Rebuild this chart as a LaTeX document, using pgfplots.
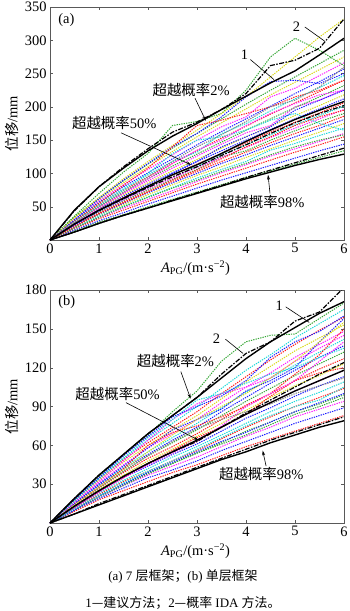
\documentclass[border=0pt]{standalone}
\usepackage{fontspec}
\setmainfont{Liberation Serif}
\newfontfamily\cjk{Noto Sans CJK SC}
\usepackage{pgfplots}
\usepackage{pgfplotstable}
\pgfplotsset{compat=1.18}
\usetikzlibrary{arrows.meta}

\definecolor{qg}{rgb}{0.2,0.65,0.2}
\definecolor{qr}{rgb}{1,0.1,0.1}
\definecolor{qb}{rgb}{0.1,0.1,1}
\definecolor{qm}{rgb}{1,0.1,1}
\definecolor{qc}{rgb}{0.1,0.85,0.85}
\definecolor{qy}{rgb}{0.85,0.85,0.1}
\definecolor{qo}{rgb}{0.5,0.5,0.5}

% panel (a): one row per record, columns = A_PG values
\pgfplotstableread{
name 0 0.5 1 1.5 2 2.5 3 3.5 4 4.5 5 5.5 6
c1 0 14 27 38 50 61 72 83 94 104 114 124 134
c2 0 15 29 41 54 66 78 90 101 112 123 134 144
c3 0 17 32 45 58 71 84 96 108 120 132 143 155
c4 0 18 34 48 61 74 88 101 113 126 137 148 160
c5 0 19 36 51 65 79 93 106 118 135 145 157 168
c6 0 20 38 53 68 83 97 110 124 137 150 162 175
c7 0 21 39 55 71 86 100 115 128 142 155 168 181
c8 0 22 40 57 73 88 103 118 132 146 160 172 186
c9 0 23 42 59 75 91 106 125 134 150 164 178 190
c10 0 23 43 60 77 93 109 124 139 154 168 182 196
c11 0 24 44 62 79 100 110 128 143 158 173 187 201
c12 0 25 45 64 81 98 114 130 146 162 177 191 206
c13 0 26 47 66 84 101 118 134 150 166 182 197 212
c14 0 27 48 68 86 104 121 138 155 171 187 202 218
c15 0 28 50 70 89 108 126 144 161 172 200 210 226
c16 0 28 51 72 92 111 129 147 165 182 199 215 232
c17 0 29 53 75 95 115 134 153 171 189 206 223 240
c18 0 30 55 77 98 118 132 160 175 194 212 229 247
c19 0 31 57 80 101 122 143 163 182 201 220 238 257
c20 0 33 59 83 106 128 150 170 185 215 228 247 266
c21 0 34 61 86 110 133 155 176 197 218 237 256 275
c22 0 35 63 89 114 138 160 182 204 225 245 265 285
c23 0 36 70 102 130 172 178 190 225 275 303 285 262
c24 0 33 64 92 118 142 165 190 215 245 275 305 332
c25 0 30 62 90 115 140 160 185 215 238 240 235 250
c26 0 28 55 82 108 140 172 180 190 200 215 225 240
c27 0 27 52 75 100 130 150 155 165 180 190 175 165
c28 0 25 48 70 92 115 135 150 172 190 205 218 225
c29 0 18 34 50 64 78 90 103 115 128 140 150 158
c30 0 26 50 72 95 118 140 158 178 200 210 230 260
c31 0 22 44 62 80 100 118 140 155 170 195 210 225
c32 0 20 40 56 72 90 105 122 140 155 172 185 195
}\rawA
\pgfplotstabletranspose[colnames from=name, input colnames to=x]\dataA{\rawA}

% panel (b)
\pgfplotstableread{
name 0 0.5 1 1.5 2 2.5 3 3.5 4 4.5 5 5.5 6
d1 0 9 18 25 32 39 45 52 59 65 71 77 83
d2 0 10 19 27 35 41 48 56 63 70 77 83 89
d3 0 10 20 29 37 44 51 59 67 74 82 88 94
d4 0 11 21 30 39 46 54 62 71 78 86 92 99
d5 0 11 22 32 40 48 56 65 74 82 90 97 104
d6 0 12 23 33 42 51 59 68 77 86 94 101 109
d7 0 12 24 35 44 53 61 71 81 89 98 106 113
d8 0 13 25 36 46 55 64 74 84 93 102 110 118
d9 0 14 26 37 48 57 67 77 87 97 106 114 123
d10 0 14 27 39 50 59 69 80 91 100 110 119 127
d11 0 15 28 40 52 62 72 83 94 104 114 123 132
d12 0 15 29 42 53 64 74 86 97 108 118 128 137
d13 0 16 30 43 55 66 77 89 101 112 122 132 142
d14 0 16 31 45 58 69 80 93 105 116 128 138 148
d15 0 17 33 47 60 72 83 96 109 121 133 143 153
d16 0 18 34 49 62 74 86 100 113 126 138 149 159
d17 0 18 35 50 64 77 90 104 118 130 143 154 165
d18 0 18 36 52 68 86 102 125 140 145 146 158 170
d19 0 15 30 44 58 72 80 88 102 110 120 140 158
d20 0 14 28 42 60 70 75 82 90 100 115 130 150
d21 0 16 32 48 64 80 92 100 105 112 125 135 145
d22 0 17 34 50 66 80 95 100 108 115 120 128 135
d23 0 14 28 41 55 68 80 90 100 112 125 140 155
d24 0 10 20 29 38 46 54 61 68 76 84 90 97
d25 0 10 21 30 39 47 55 63 70 78 86 93 100
d26 0 12 24 35 46 56 66 74 84 98 110 116 120
d27 0 12 24 35 45 54 63 75 90 100 110 125 140
d28 0 11 21 31 40 48 57 66 75 83 90 95 105
d29 0 13 27 40 52 63 73 80 86 92 100 106 112
d30 0 18 35 52 67 82 90 98 110 128 140 148 160
}\rawB
\pgfplotstabletranspose[colnames from=name, input colnames to=x]\dataB{\rawB}

\pgfplotsset{
  fr/.style={
    anchor=south west, scale only axis, width=294bp, height=233bp,
    xmin=0, xmax=6, ymin=0, xtick={0,...,6},
    tick align=inside, major tick length=3bp,
    axis line style={black!65}, tick style={black!65},
    tick label style={font=\fontsize{14.5}{16}\selectfont},
    /pgf/number format/assume math mode=true,
    no markers,
    xlabel={{\itshape A}\textsubscript{PG}/(m·s\textsuperscript{−2})},
    ylabel={{\cjk 位移}/mm},
    xlabel style={at={(axis description cs:0.495,-0.12)}, anchor=center, font=\fontsize{14.5}{16}\selectfont},
    ylabel style={at={(axis description cs:-0.13,0.5)}, anchor=center, font=\fontsize{14.5}{16}\selectfont},
  },
  dotsty/.style={dash pattern=on 1.3pt off 1.1pt, line width=1pt},
  solidk/.style={black, line width=1.4pt},
  dashk/.style={black, line width=1.2pt, dash pattern=on 5pt off 1.5pt on 1.5pt off 1.5pt},
}
\tikzset{arr/.style={-{Stealth[length=5pt,width=3pt]}, line width=0.6pt}}

\begin{document}
\begin{tikzpicture}[font=\fontsize{14.5}{17}\selectfont]
\useasboundingbox (0,0) rectangle (350bp,-611bp);

\begin{axis}[fr, at={(50bp,-240bp)}, ymax=350, ytick={50,100,...,350}]
\foreach \i/\c in {1/qg,2/qb,3/qr,4/qm,5/qc,6/qy,7/qb,8/qr,9/qg,10/qm,11/qc,12/qr,13/qb,14/qy,15/qm,16/qg,17/qr,18/qc,19/qb,20/qm,21/qy,22/qg,23/qg,24/qy,25/qb,26/qr,27/qc,28/qm,29/qg,30/qo,31/qb,32/qr}{
  \edef\temp{\noexpand\addplot[color=\c,dotsty] table[x=x,y=c\i]{\noexpand\dataA};}\temp
}
% exceedance 2%
\addplot[solidk] coordinates {(0,0)(0.5,45)(1,80)(1.5,108)(2,134)(2.5,156)(3,175)(3.5,196)(4,216)(4.5,236)(5,254)(5.5,278)(6,303)};
\addplot[dashk] coordinates {(0,0)(0.5,44)(1,80)(1.5,110)(2,137)(2.5,162)(3,177)(3.5,196)(4,220)(4.5,262)(5,270)(5.5,288)(6,332)};
% 50%
\addplot[solidk] coordinates {(0,0)(0.5,24)(1,45)(1.5,63)(2,81)(2.5,98)(3,113)(3.5,130)(4,148)(4.5,165)(5,181)(5.5,195)(6,208)};
\addplot[dashk] coordinates {(0,0)(0.5,24)(1,44)(1.5,62)(2,79)(2.5,95)(3,110)(3.5,127)(4,143)(4.5,160)(5,176)(5.5,190)(6,202)};
% 98%
\addplot[solidk] coordinates {(0,0)(0.5,12)(1,25)(1.5,37)(2,48)(2.5,59)(3,70)(3.5,81)(4,92)(4.5,102)(5,112)(5.5,121)(6,129)};
\addplot[dashk] coordinates {(0,0)(0.5,12)(1,25)(1.5,37)(2,48)(2.5,60)(3,71)(3.5,82)(4,94)(4.5,105)(5,116)(5.5,127)(6,138)};

\node[anchor=west] at (axis cs:0.1,330) {(a)};
\node at (axis cs:3.97,278) {1};
\draw[line width=0.6pt] (axis cs:4.09,271) -- (axis cs:4.57,241);
\node at (axis cs:5.03,320) {2};
\draw[line width=0.6pt] (axis cs:5.2,320) -- (axis cs:5.6,299);
\node at (axis cs:2.88,226) {{\cjk 超越概率}2\%};
\draw[arr] (axis cs:2.96,213) -- (axis cs:3.18,179);
\node at (axis cs:1.31,176) {{\cjk 超越概率}50\%};
\draw[arr] (axis cs:1.45,161) -- (axis cs:2.88,113);
\node at (axis cs:4.33,57) {{\cjk 超越概率}98\%};
\draw[arr] (axis cs:4.49,70) -- (axis cs:4.45,98);
\end{axis}

\begin{axis}[fr, at={(50bp,-523bp)}, ymax=180, ytick={30,60,...,180}]
\foreach \i/\c in {1/qr,2/qb,3/qm,4/qg,5/qr,6/qc,7/qb,8/qm,9/qy,10/qr,11/qg,12/qb,13/qc,14/qm,15/qy,16/qr,17/qc,18/qg,19/qb,20/qr,21/qm,22/qc,23/qy,24/qg,25/qb,26/qr,27/qm,28/qc,29/qo,30/qb}{
  \edef\temp{\noexpand\addplot[color=\c,dotsty] table[x=x,y=d\i]{\noexpand\dataB};}\temp
}
\addplot[solidk] coordinates {(0,0)(0.5,19)(1,37)(1.5,53)(2,69)(2.5,83)(3,97)(3.5,112)(4,127)(4.5,140)(5,151)(5.5,162)(6,171)};
\addplot[dashk] coordinates {(0,0)(0.5,19)(1,37)(1.5,53)(2,69)(2.5,83)(3,97)(3.5,115)(4,131)(4.5,140)(5,156)(5.5,163)(6,182)};
\addplot[solidk] coordinates {(0,0)(0.5,13)(1,25)(1.5,36)(2,46)(2.5,55)(3,64)(3.5,74)(4,84)(4.5,93)(5,102)(5.5,110)(6,118)};
\addplot[dashk] coordinates {(0,0)(0.5,13)(1,25)(1.5,36)(2,46)(2.5,55)(3,63)(3.5,74)(4,85)(4.5,95)(5,105)(5.5,115)(6,124)};
\addplot[solidk] coordinates {(0,0)(0.5,7)(1,14)(1.5,21)(2,28)(2.5,35)(3,42)(3.5,49)(4,55)(4.5,62)(5,68)(5.5,74)(6,79)};
\addplot[dashk] coordinates {(0,0)(0.5,7)(1,15)(1.5,22)(2,29)(2.5,36)(3,43)(3.5,50)(4,57)(4.5,64)(5,70)(5.5,76)(6,82)};

\node[anchor=west] at (axis cs:0.1,171) {(b)};
\node at (axis cs:4.68,168) {1};
\draw[line width=0.6pt] (axis cs:4.81,167) -- (axis cs:5.29,155);
\node at (axis cs:3.4,142) {2};
\draw[line width=0.6pt] (axis cs:3.58,142) -- (axis cs:3.94,131);
\node at (axis cs:2.56,125) {{\cjk 超越概率}2\%};
\draw[arr] (axis cs:2.67,117) -- (axis cs:2.87,96);
\node at (axis cs:1.38,100) {{\cjk 超越概率}50\%};
\draw[arr] (axis cs:1.55,93) -- (axis cs:3.03,64);
\node at (axis cs:4.31,38) {{\cjk 超越概率}98\%};
\draw[arr] (axis cs:4.41,44) -- (axis cs:4.34,56);
\end{axis}

\node[font=\fontsize{13}{15}\selectfont] at (183bp,-576bp) {(a) 7 {\cjk 层框架；}(b) {\cjk 单层框架}};
\node[font=\fontsize{13}{15}\selectfont] at (183bp,-603bp) {1{\cjk —建议方法；}2{\cjk —概率} IDA {\cjk 方法。}};
\end{tikzpicture}
\end{document}
